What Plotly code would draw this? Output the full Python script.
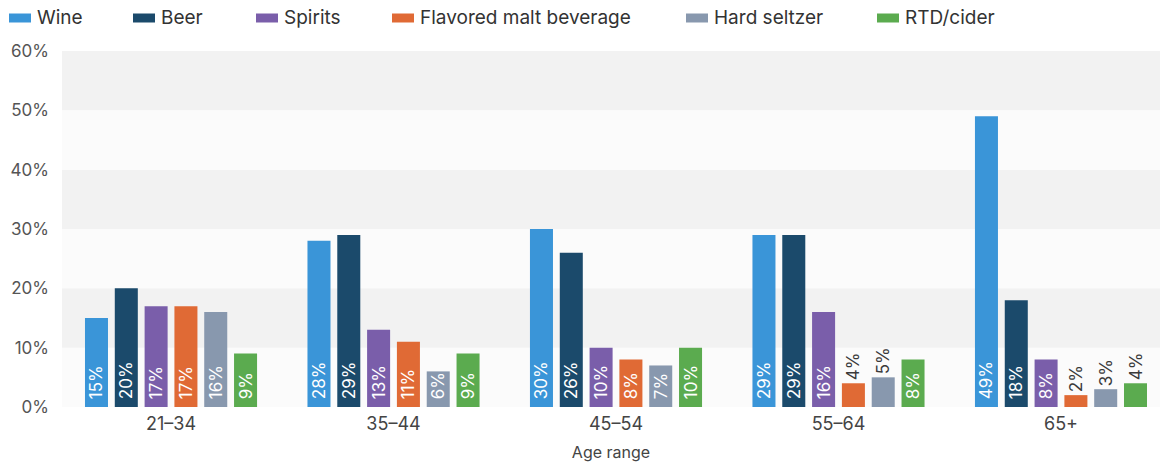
import plotly.graph_objects as go

categories = ["21–34", "35–44", "45–54", "55–64", "65+"]
series_names = ["Wine", "Beer", "Spirits", "Flavored malt beverage", "Hard seltzer", "RTD/cider"]
wine = [15, 28, 30, 29, 49]
beer = [20, 29, 26, 29, 18]
spirits = [17, 13, 10, 16, 8]
flavored = [17, 11, 8, 4, 2]
seltzer = [16, 6, 7, 5, 3]
rtd = [9, 9, 10, 8, 4]
series_values = [wine, beer, spirits, flavored, seltzer, rtd]
colors = ["#3a95d8", "#1b4a6b", "#7a5eaa", "#e06a35", "#8898ae", "#5bab4f"]
y_ticks = [0, 10, 20, 30, 40, 50, 60]
y_tick_labels = [f"{v}%" for v in y_ticks]

# layout (page pixels) ------------------------------------------------------
W, H = 1164, 462
PLOT_L, PLOT_R, PLOT_T, PLOT_B = 62, 1160, 51, 407
ML, MT, MR, MB = PLOT_L, PLOT_T, W - PLOT_R, H - PLOT_B
PW, PH = PLOT_R - PLOT_L, PLOT_B - PLOT_T
legend_swatch_left = [9, 133, 256, 392, 686, 877]
legend_swatch_w, legend_swatch_h = 22, 9
legend_center_y = 18
FONT = "Inter"


def px_x(px):
    return (px - PLOT_L) / PW


def px_y(py):
    return (PLOT_B - py) / PH


fig = go.Figure()
for name, vals, col in zip(series_names, series_values, colors):
    inside = [v >= 6 for v in vals]
    fig.add_trace(go.Bar(
        x=list(range(len(categories))), y=vals, name=name, marker_color=col,
        marker_line_width=0,
        text=[("\u00a0" + f"{v}%") if ins else f"{v}%" for v, ins in zip(vals, inside)],
        textposition=["inside" if ins else "outside" for ins in inside],
        insidetextanchor="start",
        textangle=-90,
        insidetextfont=dict(color="white", size=17, family=FONT),
        outsidetextfont=dict(color="#3a3a3a", size=17, family=FONT),
        cliponaxis=False,
        showlegend=False,
    ))

# alternating background bands
for i in range(6):
    fig.add_shape(type="rect", xref="paper", yref="y", x0=0, x1=1,
                  y0=y_ticks[i], y1=y_ticks[i + 1], layer="below", line_width=0,
                  fillcolor="#fbfbfb" if i % 2 == 0 else "#f2f2f2")

# legend row (swatch + label per series)
for name, col, left in zip(series_names, colors, legend_swatch_left):
    fig.add_shape(type="rect", xref="paper", yref="paper",
                  x0=px_x(left), x1=px_x(left + legend_swatch_w),
                  y0=px_y(legend_center_y + legend_swatch_h / 2),
                  y1=px_y(legend_center_y - legend_swatch_h / 2),
                  fillcolor=col, line_width=0)
    fig.add_annotation(xref="paper", yref="paper",
                       x=px_x(left + legend_swatch_w + 4), y=px_y(legend_center_y),
                       xanchor="left", yanchor="middle", showarrow=False,
                       text=name, font=dict(size=19, color="#333333", family=FONT))

fig.update_layout(
    width=W, height=H,
    margin=dict(l=ML, r=MR, t=MT, b=MB),
    paper_bgcolor="white", plot_bgcolor="white",
    font=dict(family=FONT, size=17, color="#444444"),
    barmode="group", bargap=0.196, bargroupgap=0.228,
    uniformtext=dict(minsize=16, mode="show"),
    showlegend=False,
    xaxis=dict(range=[-0.49, 4.445], tickvals=list(range(len(categories))),
               ticktext=categories, automargin=False,
               showgrid=False, zeroline=False, showline=False, ticks="",
               tickfont=dict(size=18, color="#444444"), ticklabelstandoff=4,
               title=dict(text="Age range", font=dict(size=16, color="#444444"), standoff=15)),
    yaxis=dict(range=[0, 60], tickvals=y_ticks, ticktext=y_tick_labels, automargin=False,
               showgrid=False, zeroline=False, showline=False, ticks="",
               tickfont=dict(size=17, color="#555555"), ticklabelstandoff=12),
)

fig.write_html("out.html", config={"displayModeBar": False},
               post_script="document.body.style.margin='0';")
